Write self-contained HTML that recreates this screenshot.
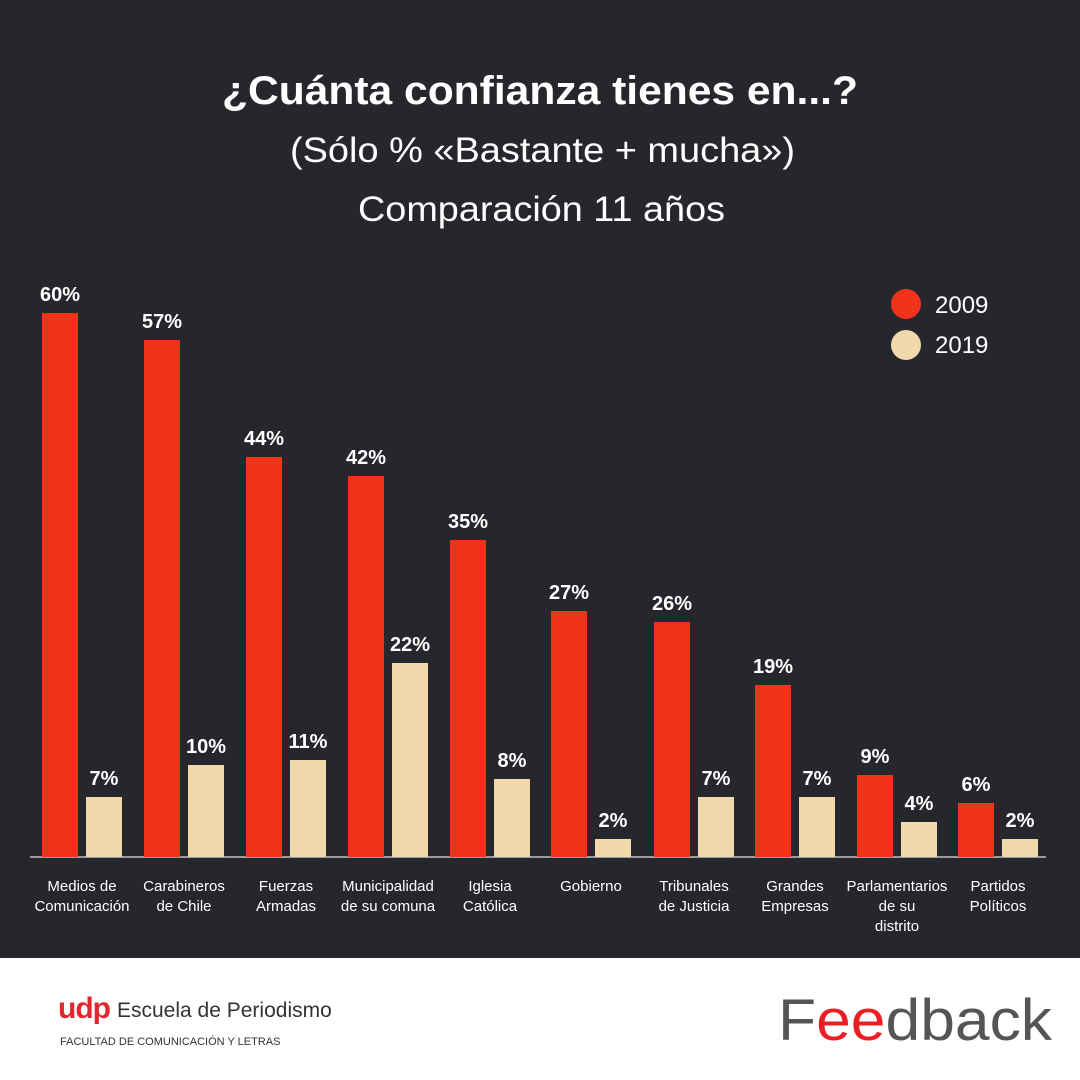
<!DOCTYPE html>
<html><head><meta charset="utf-8"><style>
html,body{margin:0;padding:0;width:1080px;height:1080px;overflow:hidden;background:#fff}
svg{display:block}
</style></head><body>
<svg width="1080" height="1080" xmlns="http://www.w3.org/2000/svg" font-family="Liberation Sans, sans-serif">
<rect x="0" y="0" width="1080" height="958" fill="#26272c"/>
<text x="222" y="104" fill="#fff" font-size="40" font-weight="bold" textLength="636" lengthAdjust="spacingAndGlyphs">¿Cuánta confianza tienes en...?</text>
<text x="290" y="162" fill="#fff" font-size="35" textLength="505" lengthAdjust="spacingAndGlyphs">(Sólo % «Bastante + mucha»)</text>
<text x="358" y="221" fill="#fff" font-size="35" textLength="367" lengthAdjust="spacingAndGlyphs">Comparación 11 años</text>
<circle cx="906" cy="304" r="15" fill="#f2321a"/>
<text x="935" y="313" fill="#fff" font-size="24">2009</text>
<circle cx="906" cy="345" r="15" fill="#f1d9ab"/>
<text x="935" y="353" fill="#fff" font-size="24">2019</text>
<line x1="30" y1="857" x2="1046" y2="857" stroke="#9a9a9a" stroke-width="2"/>
<g fill="#fff" font-size="15" text-anchor="middle">
<text x="82" y="891">Medios de</text><text x="82" y="911">Comunicación</text>
<text x="184" y="891">Carabineros</text><text x="184" y="911">de Chile</text>
<text x="286" y="891">Fuerzas</text><text x="286" y="911">Armadas</text>
<text x="388" y="891">Municipalidad</text><text x="388" y="911">de su comuna</text>
<text x="490" y="891">Iglesia</text><text x="490" y="911">Católica</text>
<text x="591" y="891">Gobierno</text>
<text x="694" y="891">Tribunales</text><text x="694" y="911">de Justicia</text>
<text x="795" y="891">Grandes</text><text x="795" y="911">Empresas</text>
<text x="897" y="891">Parlamentarios</text><text x="897" y="911">de su</text><text x="897" y="931">distrito</text>
<text x="998" y="891">Partidos</text><text x="998" y="911">Políticos</text>
</g>
<g font-size="20" font-weight="bold" fill="#fff" text-anchor="middle">
<rect x="42" y="313" width="36" height="544" fill="#f2321a"/><text x="60" y="301">60%</text>
<rect x="86" y="797" width="36" height="60" fill="#f1d9ab"/><text x="104" y="785">7%</text>
<rect x="144" y="340" width="36" height="517" fill="#f2321a"/><text x="162" y="328">57%</text>
<rect x="188" y="765" width="36" height="92" fill="#f1d9ab"/><text x="206" y="753">10%</text>
<rect x="246" y="457" width="36" height="400" fill="#f2321a"/><text x="264" y="445">44%</text>
<rect x="290" y="760" width="36" height="97" fill="#f1d9ab"/><text x="308" y="748">11%</text>
<rect x="348" y="476" width="36" height="381" fill="#f2321a"/><text x="366" y="464">42%</text>
<rect x="392" y="663" width="36" height="194" fill="#f1d9ab"/><text x="410" y="651">22%</text>
<rect x="450" y="540" width="36" height="317" fill="#f2321a"/><text x="468" y="528">35%</text>
<rect x="494" y="779" width="36" height="78" fill="#f1d9ab"/><text x="512" y="767">8%</text>
<rect x="551" y="611" width="36" height="246" fill="#f2321a"/><text x="569" y="599">27%</text>
<rect x="595" y="839" width="36" height="18" fill="#f1d9ab"/><text x="613" y="827">2%</text>
<rect x="654" y="622" width="36" height="235" fill="#f2321a"/><text x="672" y="610">26%</text>
<rect x="698" y="797" width="36" height="60" fill="#f1d9ab"/><text x="716" y="785">7%</text>
<rect x="755" y="685" width="36" height="172" fill="#f2321a"/><text x="773" y="673">19%</text>
<rect x="799" y="797" width="36" height="60" fill="#f1d9ab"/><text x="817" y="785">7%</text>
<rect x="857" y="775" width="36" height="82" fill="#f2321a"/><text x="875" y="763">9%</text>
<rect x="901" y="822" width="36" height="35" fill="#f1d9ab"/><text x="919" y="810">4%</text>
<rect x="958" y="803" width="36" height="54" fill="#f2321a"/><text x="976" y="791">6%</text>
<rect x="1002" y="839" width="36" height="18" fill="#f1d9ab"/><text x="1020" y="827">2%</text>
</g>
<text x="58" y="1018" fill="#e0262e" font-size="30" font-weight="bold" letter-spacing="-1">udp</text>
<text x="117" y="1017" fill="#333" font-size="21">Escuela de Periodismo</text>
<text x="60" y="1045" fill="#333" font-size="11">FACULTAD DE COMUNICACIÓN Y LETRAS</text>
<text x="778" y="1040" font-size="58" fill="#555" textLength="274" lengthAdjust="spacingAndGlyphs"><tspan>F</tspan><tspan fill="#ee1c24">ee</tspan><tspan>dback</tspan></text>
</svg>
</body></html>
